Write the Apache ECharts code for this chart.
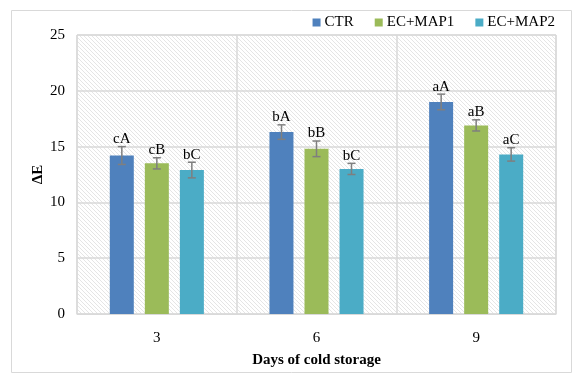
<!DOCTYPE html>
<html>
<head>
<meta charset="utf-8">
<script src="https://cdn.jsdelivr.net/npm/echarts@6/dist/echarts.min.js"></script>
<style>
  html, body { margin: 0; padding: 0; background: #fff; }
  #chart { width: 580px; height: 383px; }
</style>
</head>
<body>
<div id="chart"></div>
<script>
const days = ['3', '6', '9']
const seriesNames = ['CTR', 'EC+MAP1', 'EC+MAP2']
const ctr = [14.2, 16.3, 19.0]
const map1 = [13.5, 14.8, 16.9]
const map2 = [12.9, 13.0, 14.3]
const ctrErr = [0.8, 0.65, 0.7]
const map1Err = [0.5, 0.7, 0.5]
const map2Err = [0.7, 0.5, 0.6]
const ctrLetters = ['cA', 'bA', 'aA']
const map1Letters = ['cB', 'bB', 'aB']
const map2Letters = ['bC', 'bC', 'aC']

const colors = ['#4F81BD', '#9BBB59', '#4BACC6']
const font = '"Liberation Serif", "Times New Roman", serif'
const barWidth = 24
const barStep = 35

// hatched plot background
const tile = document.createElement('canvas')
tile.width = 4
tile.height = 4
const ctx = tile.getContext('2d')
ctx.fillStyle = '#ffffff'
ctx.fillRect(0, 0, 4, 4)
ctx.strokeStyle = '#e2e2e2'
ctx.lineWidth = 0.9
ctx.beginPath()
ctx.moveTo(-1, -1)
ctx.lineTo(5, 5)
ctx.moveTo(-3, 1)
ctx.lineTo(3, 7)
ctx.moveTo(1, -3)
ctx.lineTo(7, 3)
ctx.stroke()

const makeErr = (idx, vals, errs, letters) => {
  return {
    name: seriesNames[idx] + ' err',
    type: 'custom',
    z: 5,
    data: vals.map((v, i) => [i, v, errs[i], letters[i]]),
    renderItem: (params, api) => {
      const c = api.coord([api.value(0), api.value(1)])
      const x = c[0] + (idx - 1) * barStep
      const hi = api.coord([api.value(0), api.value(1) + api.value(2)])[1]
      const lo = api.coord([api.value(0), api.value(1) - api.value(2)])[1]
      const style = { stroke: '#7f7f7f', lineWidth: 1.5 }
      return {
        type: 'group',
        children: [
          { type: 'line', shape: { x1: x, y1: hi, x2: x, y2: lo }, style },
          { type: 'line', shape: { x1: x - 4, y1: hi, x2: x + 4, y2: hi }, style },
          { type: 'line', shape: { x1: x - 4, y1: lo, x2: x + 4, y2: lo }, style },
          {
            type: 'text',
            x: x,
            y: hi,
            style: {
              text: letters[params.dataIndex],
              fill: '#000',
              font: '15px ' + font,
              textAlign: 'center',
              textVerticalAlign: 'bottom'
            }
          }
        ]
      }
    }
  }
}

const chart = echarts.init(document.getElementById('chart'))
const option = {
  animation: false,
  textStyle: { fontFamily: font },
  graphic: [
    {
      type: 'rect',
      shape: { x: 11.5, y: 10.5, width: 560, height: 362 },
      style: { fill: 'none', stroke: '#d9d9d9', lineWidth: 1 }
    }
  ],
  legend: {
    data: seriesNames,
    right: 20,
    top: 10,
    itemWidth: 8,
    itemHeight: 8,
    itemGap: 21,
    icon: 'rect',
    textStyle: { fontFamily: font, fontSize: 15, color: '#000', padding: [0, 0, 0, -1] }
  },
  grid: {
    left: 77,
    right: 24,
    top: 35,
    bottom: 69,
    show: true,
    borderColor: '#d9d9d9',
    borderWidth: 1,
    backgroundColor: { image: tile, repeat: 'repeat' }
  },
  xAxis: {
    type: 'category',
    data: days,
    name: 'Days of cold storage',
    nameLocation: 'middle',
    nameGap: 39,
    nameMoveOverlap: false,
    nameTextStyle: { fontFamily: font, fontSize: 15, fontWeight: 'bold', color: '#000' },
    axisLine: { show: true, lineStyle: { color: '#d9d9d9' } },
    axisTick: { show: false },
    axisLabel: { fontFamily: font, fontSize: 15, color: '#000', margin: 17 },
    splitLine: { show: true, lineStyle: { color: '#d9d9d9', width: 1.5 } }
  },
  yAxis: {
    type: 'value',
    min: 0,
    max: 25,
    interval: 5,
    name: 'ΔE',
    nameLocation: 'middle',
    nameGap: 31,
    nameMoveOverlap: false,
    nameRotate: 90,
    nameTextStyle: { fontFamily: font, fontSize: 15, fontWeight: 'bold', color: '#000' },
    axisLine: { show: false },
    axisTick: { show: false },
    axisLabel: { fontFamily: font, fontSize: 15, color: '#000', margin: 12 },
    splitLine: { show: true, lineStyle: { color: '#d9d9d9', width: 1.5 } }
  },
  series: [
    { name: seriesNames[0], type: 'bar', data: ctr, barWidth: barWidth, barGap: '46%', itemStyle: { color: colors[0] } },
    { name: seriesNames[1], type: 'bar', data: map1, barWidth: barWidth, barGap: '46%', itemStyle: { color: colors[1] } },
    { name: seriesNames[2], type: 'bar', data: map2, barWidth: barWidth, barGap: '46%', itemStyle: { color: colors[2] } },
    makeErr(0, ctr, ctrErr, ctrLetters),
    makeErr(1, map1, map1Err, map1Letters),
    makeErr(2, map2, map2Err, map2Letters)
  ]
}
chart.setOption(option)
</script>
</body>
</html>
